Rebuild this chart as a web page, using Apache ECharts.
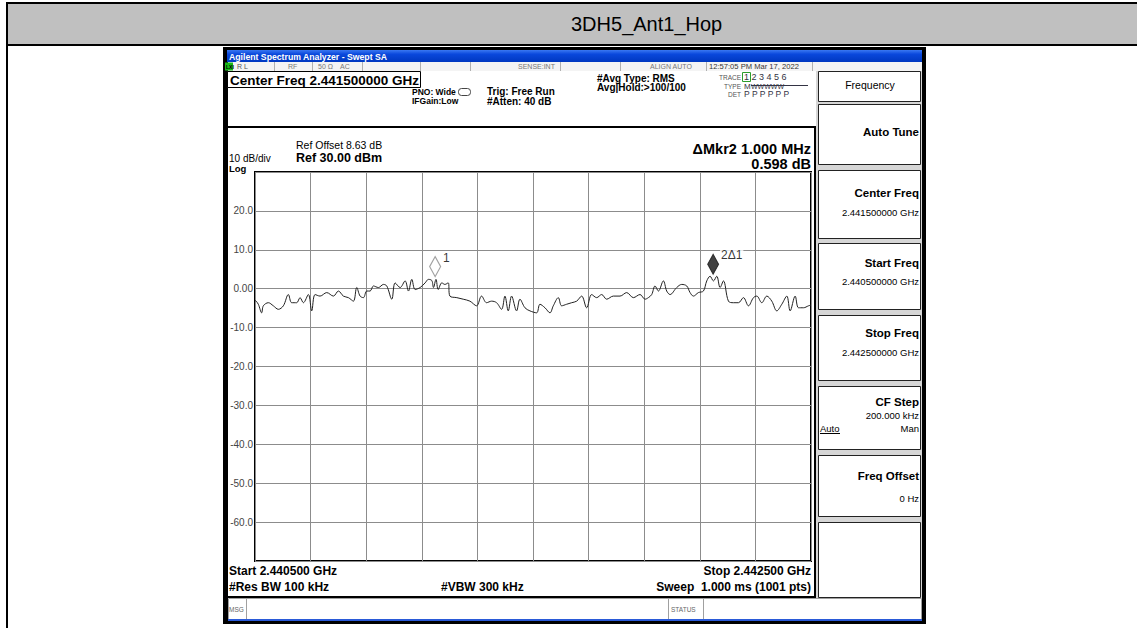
<!DOCTYPE html>
<html><head><meta charset="utf-8">
<script src="https://cdn.jsdelivr.net/npm/echarts@6/dist/echarts.min.js"></script>
<style>html,body{margin:0;padding:0;background:#fff}#c{width:1137px;height:628px}</style>
</head><body><div id="c"></div>
<script>
// ---------------- data ----------------
const chartTitle = '3DH5_Ant1_Hop';
const centerFreqMHz = 2441.5;
const spanMHz = 2;
const refLevelDbm = 30;
const bottomLevelDbm = -70;
const dbPerDiv = 10;
const traceFreqMHz = [
  2440.500,2440.504,2440.512,2440.524,2440.530,2440.548,2440.566,2440.584,2440.602,2440.620,
  2440.632,2440.650,2440.662,2440.674,2440.692,2440.704,2440.716,2440.734,2440.758,2440.782,
  2440.800,2440.818,2440.836,2440.854,2440.866,2440.878,2440.890,2440.902,2440.914,2440.926,
  2440.944,2440.962,2440.974,2440.992,2441.004,2441.022,2441.040,2441.052,2441.064,2441.076,
  2441.094,2441.112,2441.124,2441.136,2441.142,2441.151,2441.159,2441.172,2441.183,2441.195,
  2441.201,2441.226,2441.249,2441.273,2441.297,2441.315,2441.333,2441.351,2441.369,2441.387,
  2441.399,2441.411,2441.423,2441.441,2441.453,2441.471,2441.489,2441.513,2441.525,2441.543,
  2441.561,2441.573,2441.591,2441.603,2441.621,2441.639,2441.657,2441.675,2441.693,2441.711,
  2441.729,2441.747,2441.765,2441.789,2441.813,2441.837,2441.861,2441.885,2441.903,2441.915,
  2441.927,2441.939,2441.951,2441.969,2441.981,2441.993,2442.017,2442.035,2442.053,2442.065,
  2442.077,2442.095,2442.113,2442.125,2442.137,2442.149,2442.161,2442.173,2442.185,2442.203,
  2442.221,2442.239,2442.257,2442.275,2442.293,2442.305,2442.323,2442.341,2442.359,2442.377,
  2442.395,2442.413,2442.425,2442.443,2442.455,2442.473,2442.491,2442.500
];
const traceLevelDbm = [
  -3.0,-3.2,-4.0,-6.2,-4.4,-3.6,-4.4,-5.3,-4.4,-1.5,
  -3.6,-3.6,-2.3,-3.6,-1.5,-5.7,-1.5,-1.9,-1.0,-1.9,
  -0.6,-1.9,-2.3,-3.2,0.3,-1.9,-2.3,-0.6,-0.6,0.7,
  0.3,1.1,0.7,-2.7,1.5,0.3,2.0,-0.6,2.4,-0.2,
  0.3,1.5,2.4,2.1,0.3,2.4,-0.2,1.5,1.1,1.5,
  -1.9,-2.3,-2.7,-3.2,-4.4,-1.9,-3.6,-3.2,-3.6,-5.3,
  -1.9,-5.7,-1.9,-5.7,-2.7,-4.9,-5.7,-6.2,-4.0,-4.9,
  -6.2,-4.4,-2.3,-4.4,-4.0,-3.6,-3.2,-1.9,-4.9,-1.5,
  -2.3,-1.5,-2.7,-1.9,-1.9,-1.0,-2.3,-1.5,-2.7,-2.3,
  -1.5,0.7,-0.6,2.0,-0.6,-1.5,0.3,1.1,0.7,-1.0,
  -1.9,-1.0,-0.6,2.0,3.2,2.0,3.2,0.3,2.0,-3.2,
  -3.6,-3.6,-2.3,-4.4,-2.3,-1.9,-3.6,-1.9,-3.2,-5.7,
  -4.0,-1.9,-5.7,-1.9,-4.9,-4.9,-4.4,-4.2
];
const markerFreqMHz = [2441.148, 2442.148];
const markerLevelDbm = [2.6, 3.2];
const markerNames = ['1', '2\u03941'];
const deltaMarkerText = ['\u0394Mkr2 1.000 MHz', '0.598 dB'];

// ---------------- helpers ----------------
const FF = '"Liberation Sans", Arial, sans-serif';
const startMHz = centerFreqMHz - spanMHz / 2;
const stopMHz = centerFreqMHz + spanMHz / 2;
const halfSpanKHz = spanMHz * 500;
const toKHz = f => Math.round((f - centerFreqMHz) * 1000);
const fmtGHz = (mhz, d) => (mhz / 1000).toFixed(d) + ' GHz';

function T(x, y, text, size, o) {
  o = o || {};
  const font = (o.bold ? 'bold ' : '') + size + 'px ' + FF;
  return { type: 'text', x: x, y: y, z: 100, silent: true,
    style: { text: text, fill: o.color || '#000', font: font,
      textAlign: o.align || 'left', textVerticalAlign: 'middle',
      align: o.align || 'left', verticalAlign: 'middle' } };
}
function R(x, y, w, h, fill, stroke, lw, z) {
  return { type: 'rect', z: z == null ? 50 : z, silent: true,
    shape: { x: x, y: y, width: w, height: h },
    style: { fill: fill || 'none', stroke: stroke || 'none', lineWidth: lw || 0 } };
}
function L(x1, y1, x2, y2, stroke, lw, z) {
  return { type: 'line', z: z == null ? 60 : z, silent: true,
    shape: { x1: x1, y1: y1, x2: x2, y2: y2 },
    style: { stroke: stroke, lineWidth: lw || 1 } };
}

const G = [];
// report title row
G.push(R(7, 3, 1140, 42, '#C0C0C0', '#000', 2));
G.push(L(7, 45, 7, 628, '#000', 2));
G.push(T(571, 24, chartTitle, 20));

// analyzer screenshot frame
G.push(R(223, 47, 703, 3, '#000'));
G.push(R(223, 47, 5, 577, '#000'));
G.push(R(223, 621, 703, 3, '#000'));
G.push(R(922, 47, 4, 577, '#000'));
// blue title bar
G.push({ type: 'rect', z: 50, silent: true, shape: { x: 227, y: 50, width: 695, height: 12 },
  style: { fill: new echarts.graphic.LinearGradient(0, 0, 0, 1, [
    { offset: 0, color: '#3a78f2' }, { offset: 0.35, color: '#0a48dc' },
    { offset: 1, color: '#0038c0' }]) } });
G.push(T(229, 56.5, 'Agilent Spectrum Analyzer - Swept SA', 8.7, { bold: true, color: '#fff' }));
// status row
G.push(R(228, 62, 694, 9, '#f4f4f4'));
G.push(R(225, 62.5, 8, 8, '#18b818'));
G.push(T(226, 66.5, 'LXI', 5, { bold: true, color: '#000' }));
[274, 312, 362, 420, 470, 560, 620, 706, 812].forEach(x => G.push(L(x + 0.5, 62, x + 0.5, 71, '#b0b0b0', 1)));
G.push(T(237, 66.5, 'R L', 7, { color: '#555' }));
G.push(T(288, 66.5, 'RF', 7, { color: '#777' }));
G.push(T(318, 66.5, '50 \u03a9', 7, { color: '#777' }));
G.push(T(340, 66.5, 'AC', 7, { color: '#777' }));
G.push(T(518, 66.5, 'SENSE:INT', 7, { color: '#777' }));
G.push(T(650, 66.5, 'ALIGN AUTO', 7, { color: '#777' }));
G.push(T(709, 66.5, '12:57:05 PM Mar 17, 2022', 7.6, { color: '#333' }));
// header
G.push(R(227.5, 71.5, 193, 16, '#fff', '#000', 1));
G.push(T(230, 80, 'Center Freq ' + fmtGHz(centerFreqMHz, 9), 13.5, { bold: true }));
G.push(T(412, 92, 'PNO: Wide', 8.5, { bold: true }));
G.push({ type: 'rect', z: 60, silent: true, shape: { x: 458.5, y: 88.5, width: 12, height: 7, r: 3 },
  style: { fill: '#fff', stroke: '#444', lineWidth: 1 } });
G.push(T(412, 101, 'IFGain:Low', 8.5, { bold: true }));
G.push(T(487, 91, 'Trig: Free Run', 10, { bold: true }));
G.push(T(487, 101, '#Atten: 40 dB', 10, { bold: true }));
G.push(T(597, 78, '#Avg Type: RMS', 10, { bold: true }));
G.push(T(597, 87, 'Avg|Hold:>100/100', 10, { bold: true }));
G.push(T(741, 77, 'TRACE', 6.5, { align: 'right', color: '#555' }));
G.push(T(741, 86, 'TYPE', 6.5, { align: 'right', color: '#555' }));
G.push(T(741, 94, 'DET', 6.5, { align: 'right', color: '#555' }));
G.push(R(742.5, 72.5, 8, 9, 'none', '#2c9c2c', 1));
G.push(T(744, 77, '1 2 3 4 5 6', 9, { color: '#334' }));
G.push(T(744, 86, 'M', 8, { color: '#334' }));
G.push(T(751, 86, 'WWWWW', 7, { color: '#334' }));
G.push(L(751, 85.5, 808, 85.5, '#334', 1));
G.push(T(744, 94, 'P P P P P P', 8.5, { color: '#334' }));
// separator and plot panel borders
G.push(R(224, 126, 592, 2, '#000'));
G.push(R(814, 126, 2, 472, '#000'));
G.push(R(224, 596, 592, 2, '#000'));
// plot annotations
G.push(T(296, 145, 'Ref Offset 8.63 dB', 10.5));
G.push(T(296, 158, 'Ref ' + refLevelDbm.toFixed(2) + ' dBm', 12.5, { bold: true }));
G.push(T(229, 158.5, dbPerDiv + ' dB/div', 10));
G.push(T(229, 168.5, 'Log', 9.5, { bold: true }));
G.push(T(811, 149, deltaMarkerText[0], 14.5, { bold: true, align: 'right' }));
G.push(T(811, 164, deltaMarkerText[1], 14.5, { bold: true, align: 'right' }));
G.push(T(229, 571, 'Start ' + fmtGHz(startMHz, 6), 12, { bold: true }));
G.push(T(229, 587, '#Res BW 100 kHz', 12, { bold: true }));
G.push(T(441, 587, '#VBW 300 kHz', 12, { bold: true }));
G.push(T(811, 571, 'Stop ' + fmtGHz(stopMHz, 6), 12, { bold: true, align: 'right' }));
G.push(T(811, 587, 'Sweep  1.000 ms (1001 pts)', 12, { bold: true, align: 'right' }));
// msg row
G.push(R(228.5, 598.5, 693, 21, '#fff', '#a0a0a0', 1));
G.push(L(246.5, 599, 246.5, 619, '#a0a0a0', 1));
G.push(L(668.5, 599, 668.5, 619, '#a0a0a0', 1));
G.push(L(703.5, 599, 703.5, 619, '#a0a0a0', 1));
G.push(T(229, 609, 'MSG', 6.5, { color: '#666' }));
G.push(T(671, 609, 'STATUS', 6.5, { color: '#666' }));
G.push(R(228, 619, 694, 2, '#2a5ad8'));
// right soft-key panel
G.push(R(816, 71, 106, 527, '#d6d6d6'));
const keys = [
  { y: 71, h: 30 }, { y: 104, h: 60 }, { y: 170, h: 68 }, { y: 243, h: 66 },
  { y: 315, h: 65 }, { y: 386, h: 63 }, { y: 455, h: 61 }, { y: 522, h: 75 }
];
keys.forEach(k => G.push(R(818.5, k.y + 0.5, 102, k.h, '#fff', '#222', 1)));
G.push(T(870, 85, 'Frequency', 10.5, { align: 'center' }));
G.push(T(919, 132, 'Auto Tune', 11.5, { bold: true, align: 'right' }));
G.push(T(919, 193, 'Center Freq', 11.5, { bold: true, align: 'right' }));
G.push(T(919, 212, fmtGHz(centerFreqMHz, 9), 9.5, { align: 'right' }));
G.push(T(919, 263, 'Start Freq', 11.5, { bold: true, align: 'right' }));
G.push(T(919, 281, fmtGHz(startMHz, 9), 9.5, { align: 'right' }));
G.push(T(919, 333, 'Stop Freq', 11.5, { bold: true, align: 'right' }));
G.push(T(919, 352, fmtGHz(stopMHz, 9), 9.5, { align: 'right' }));
G.push(T(919, 402, 'CF Step', 11.5, { bold: true, align: 'right' }));
G.push(T(919, 415, '200.000 kHz', 9.5, { align: 'right' }));
G.push(T(820, 428, 'Auto', 9.5));
G.push(L(820, 433.5, 840, 433.5, '#000', 1));
G.push(T(919, 428, 'Man', 9.5, { align: 'right' }));
G.push(T(919, 476, 'Freq Offset', 11.5, { bold: true, align: 'right' }));
G.push(T(919, 498, '0 Hz', 9.5, { align: 'right' }));

// ---------------- chart ----------------
const traceData = traceFreqMHz.map((f, i) => [toKHz(f), traceLevelDbm[i]]);
const markerSeries = markerFreqMHz.map((f, i) => ({
  type: 'scatter', z: 5, silent: true,
  data: [[toKHz(f), markerLevelDbm[i]]],
  symbol: 'diamond', symbolSize: [11, 20], symbolOffset: [0, -12],
  itemStyle: i === 0 ? { color: '#fff', borderColor: '#8a8a8a', borderWidth: 1.2 }
                     : { color: '#111', borderColor: '#111', borderWidth: 1 },
  label: { show: true, formatter: markerNames[i], position: 'right', distance: 1,
    offset: [0, -9], color: '#000', fontSize: 12, fontFamily: FF,
    backgroundColor: i === 1 ? '#fff' : 'transparent', padding: [0, 1] }
}));

const chart = echarts.init(document.getElementById('c'), null, { renderer: 'svg' });
chart.setOption({
  animation: false,
  backgroundColor: '#fff',
  grid: { left: 255, top: 172, width: 556, height: 389, show: true,
    backgroundColor: '#fff', borderColor: '#000', borderWidth: 2 },
  xAxis: { type: 'value', min: -halfSpanKHz, max: halfSpanKHz, interval: halfSpanKHz / 5,
    axisLine: { show: false }, axisTick: { show: false }, axisLabel: { show: false },
    splitLine: { show: true, lineStyle: { color: '#8c8c8c', width: 1 } } },
  yAxis: { type: 'value', min: bottomLevelDbm, max: refLevelDbm, interval: dbPerDiv,
    axisLine: { show: false }, axisTick: { show: false },
    axisLabel: { margin: 2, color: '#444', fontSize: 10, fontFamily: FF,
      formatter: v => (v === refLevelDbm || v === bottomLevelDbm) ? '' : (v === 0 ? '0.00' : v.toFixed(1)) },
    splitLine: { show: true, lineStyle: { color: '#8c8c8c', width: 1 } } },
  series: [{
    type: 'line', data: traceData, showSymbol: false, silent: true, z: 3,
    smooth: 0.35,
    lineStyle: { color: '#222', width: 1 }
  }].concat(markerSeries),
  graphic: { elements: G }
});
</script>
</body></html>
